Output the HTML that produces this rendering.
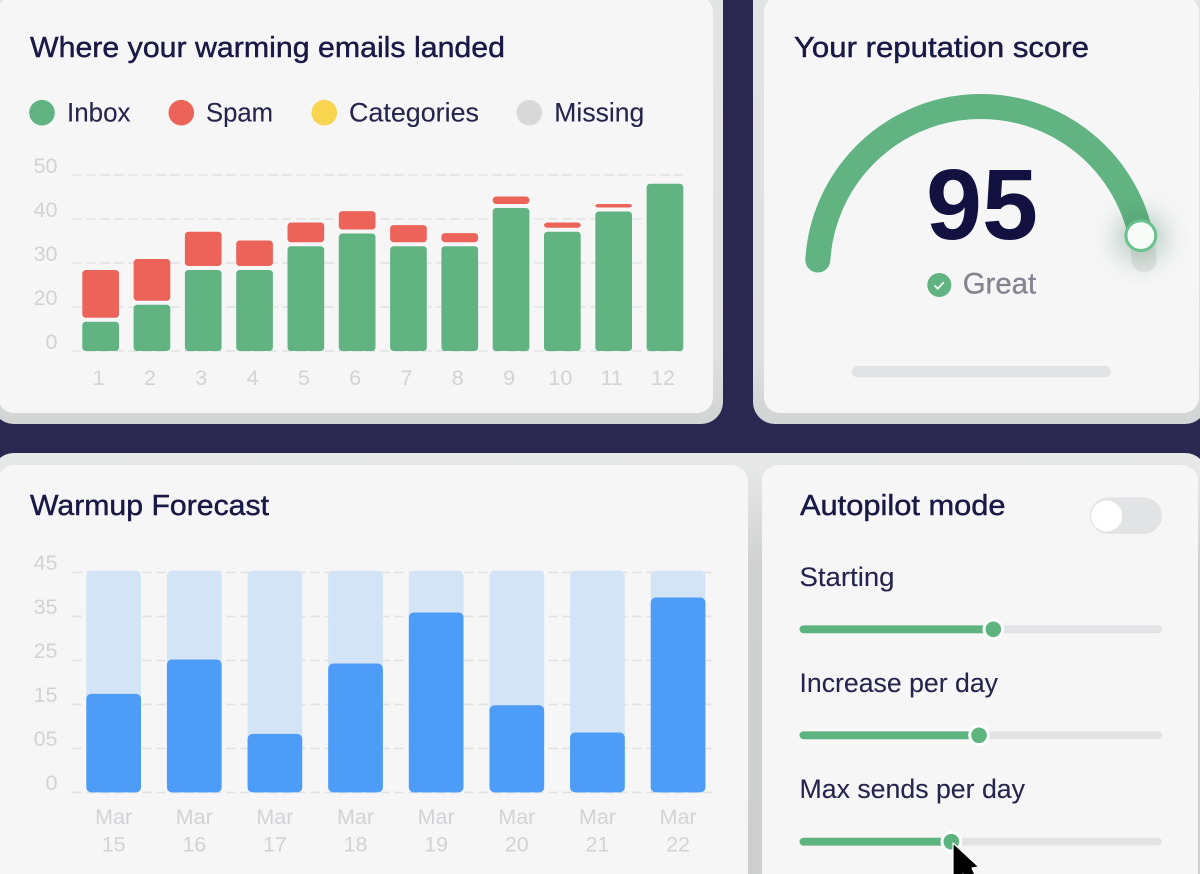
<!DOCTYPE html>
<html lang="en">
<head>
<meta charset="utf-8">
<title>Email warmup dashboard</title>
<style>
html,body{margin:0;padding:0;width:1200px;height:874px;overflow:hidden;background:#2a2850}
svg{display:block}
text{font-family:"Liberation Sans",sans-serif}
.title{font-size:28.5px;fill:#1a1946;stroke:#1a1946;stroke-width:.45px}
.body{font-size:26.5px;fill:#25244c;stroke:#25244c;stroke-width:.1px}
.tick{font-size:21.5px;fill:#d2d3d5}
</style>
</head>
<body>
<svg id="page" xmlns="http://www.w3.org/2000/svg" width="1200" height="874" viewBox="0 0 1200 874">
  <defs>
    <linearGradient id="topEdge" x1="0" y1="0" x2="0" y2="1">
      <stop offset="0" stop-color="#e3e4e4"/><stop offset=".85" stop-color="#dfe0e0"/><stop offset=".97" stop-color="#d4d5d5"/>
    </linearGradient>
    <linearGradient id="lowEdge" x1="0" y1="0" x2="0" y2="1">
      <stop offset="0" stop-color="#e8e9e9"/><stop offset=".06" stop-color="#e4e5e5"/><stop offset=".25" stop-color="#cfd0d0"/><stop offset="1" stop-color="#cdcece"/>
    </linearGradient>
    <filter id="glow" x="-150%" y="-150%" width="400%" height="400%"><feGaussianBlur stdDeviation="12"/></filter>
  </defs>

  <rect width="1200" height="874" fill="#2a2850"/>

  <g>
    <rect x="-8" y="-30" width="731" height="454" rx="22" fill="url(#topEdge)"/>
    <rect x="-2" y="-4" width="715" height="417" rx="16" fill="#f6f6f7"/>
    <text class="title" x="30" y="57" textLength="475" lengthAdjust="spacingAndGlyphs">Where your warming emails landed</text>
    <g>
      <g>
        <circle cx="42" cy="112.7" r="12.8" fill="#61b482"/>
        <text class="body" x="67" y="121.3" textLength="63.5" lengthAdjust="spacingAndGlyphs">Inbox</text>
      </g>
      <g>
        <circle cx="181.3" cy="112.7" r="12.8" fill="#ec6459"/>
        <text class="body" x="206" y="121.3" textLength="67" lengthAdjust="spacingAndGlyphs">Spam</text>
      </g>
      <g>
        <circle cx="324.3" cy="112.7" r="12.8" fill="#f9d44f"/>
        <text class="body" x="349" y="121.3" textLength="130" lengthAdjust="spacingAndGlyphs">Categories</text>
      </g>
      <g>
        <circle cx="529.3" cy="112.7" r="12.8" fill="#d9d9da"/>
        <text class="body" x="554.3" y="121.3" textLength="90" lengthAdjust="spacingAndGlyphs">Missing</text>
      </g>
    </g>
    <g id="chart1"></g>
  </g>

  <g>
    <rect x="753" y="-30" width="454" height="454" rx="22" fill="url(#topEdge)"/>
    <rect x="764" y="-4" width="435" height="417" rx="16" fill="#f6f6f7"/>
    <text class="title" x="794" y="57" textLength="295" lengthAdjust="spacingAndGlyphs">Your reputation score</text>
    <g id="gauge"></g>
    <text x="926" y="239" font-size="100" font-weight="700" fill="#12113f" textLength="112" lengthAdjust="spacingAndGlyphs">95</text>
    <g>
      <circle cx="939.3" cy="285" r="12" fill="#61b482"/>
      <path d="M934.5 285.5l3.3 3.2 6-6.5" fill="none" stroke="#f6f6f7" stroke-width="1.8"/>
      <text x="962.7" y="293.3" font-size="29.5" fill="#84838f" stroke="#84838f" stroke-width=".3" textLength="73.5" lengthAdjust="spacingAndGlyphs">Great</text>
    </g>
    <rect x="852" y="366" width="259" height="11.3" rx="5.6" fill="#e2e3e5"/>
  </g>

  <rect x="-8" y="453" width="1215" height="460" rx="22" fill="url(#lowEdge)"/>

  <g>
    <rect x="-2" y="465" width="750" height="440" rx="16" fill="#f6f6f7"/>
    <text class="title" x="30" y="515" textLength="239" lengthAdjust="spacingAndGlyphs">Warmup Forecast</text>
    <g id="chart2"></g>
  </g>

  <g>
    <rect x="762" y="465" width="436" height="440" rx="16" fill="#f6f6f7"/>
    <text class="title" x="800" y="515" textLength="205.5" lengthAdjust="spacingAndGlyphs">Autopilot mode</text>
    <g>
      <rect x="1090" y="497.5" width="72" height="36.5" rx="18.2" fill="#e2e3e5"/>
      <circle cx="1106.7" cy="516" r="15.5" fill="#ffffff"/>
    </g>

    <text class="body" x="799.5" y="586" textLength="95" lengthAdjust="spacingAndGlyphs">Starting</text>
    <g>
      <rect x="799.5" y="625.4" width="362.5" height="7.8" rx="3.9" fill="#e2e3e5"/>
      <rect x="799.5" y="625.4" width="193.8" height="7.8" rx="3.9" fill="#5eb47f"/>
      <circle cx="993.3" cy="629.3" r="10.8" fill="#ffffff"/>
      <circle cx="993.3" cy="629.3" r="7.8" fill="#5eb47f"/>
    </g>

    <text class="body" x="799.5" y="692" textLength="198.5" lengthAdjust="spacingAndGlyphs">Increase per day</text>
    <g>
      <rect x="799.5" y="731.4" width="362.5" height="7.8" rx="3.9" fill="#e2e3e5"/>
      <rect x="799.5" y="731.4" width="179.5" height="7.8" rx="3.9" fill="#5eb47f"/>
      <circle cx="979" cy="735.3" r="10.8" fill="#ffffff"/>
      <circle cx="979" cy="735.3" r="7.8" fill="#5eb47f"/>
    </g>

    <text class="body" x="799.5" y="798" textLength="225.5" lengthAdjust="spacingAndGlyphs">Max sends per day</text>
    <g>
      <rect x="799.5" y="837.8" width="362.5" height="7.8" rx="3.9" fill="#e2e3e5"/>
      <rect x="799.5" y="837.8" width="151.8" height="7.8" rx="3.9" fill="#5eb47f"/>
      <circle cx="951.3" cy="841.7" r="10.8" fill="#ffffff"/>
      <circle cx="951.3" cy="841.7" r="7.8" fill="#5eb47f"/>
    </g>
  </g>

  <path d="M953 843 L953 884 L963 874 L971 890 L980 886 L972 868 L979 867 Z" fill="#000000" stroke="#ffffff" stroke-width="1.2" stroke-linejoin="round"/>
</svg>

<script>
/* Chart 1 data: where warming emails landed */
const c1Categories = ['1','2','3','4','5','6','7','8','9','10','11','12'];
const c1Inbox = [13.3,20.5,28.4,28.4,33.8,36.7,33.8,33.8,42.5,37.1,41.7,48];
const c1Spam = [15.1,10.4,8.7,6.7,5.4,5.1,4.8,3.0,2.6,2.1,1.7,0];
const c1TickValues = [0,20,30,40,50];
const c1TickLabels = ['0','20','30','40','50'];

/* Chart 2 data: warmup forecast */
const c2Months = ['Mar','Mar','Mar','Mar','Mar','Mar','Mar','Mar'];
const c2Days = ['15','16','17','18','19','20','21','22'];
const c2Sent = [17.4,25.2,8.3,24.3,35.9,14.8,8.6,39.3];
const c2Capacity = [45.4,45.4,45.4,45.4,45.4,45.4,45.4,45.4];
const c2TickValues = [0,5,15,25,35,45];
const c2TickLabels = ['0','05','15','25','35','45'];

/* Gauge data */
const gaugeValue = 95;
const gaugeMax = 100;

const NS = 'http://www.w3.org/2000/svg';
function make(parent, tag, props, text) {
  const node = document.createElementNS(NS, tag);
  for (const key in props) node.setAttribute(key, props[key]);
  if (text !== undefined) node.textContent = text;
  parent.appendChild(node);
  return node;
}

/* The printed ticks are evenly spaced on screen, so the axis is piecewise linear between them. */
function makeYAxis(ticks, baseY, tickStep) {
  return function (v) {
    let i = 0;
    while (i < ticks.length - 2 && v > ticks[i + 1]) i++;
    const t = (v - ticks[i]) / (ticks[i + 1] - ticks[i]);
    return baseY - (i + t) * tickStep;
  };
}
function makeXAxis(firstLeft, pitch) {
  return function (i) { return firstLeft + i * pitch; };
}

function drawGrid(root, ticks, labels, y, x1, x2) {
  ticks.forEach(function (tick, i) {
    const line = make(root, 'line', {x1: x1, x2: x2, y1: y(tick), y2: y(tick), stroke: '#dfe0e2', 'stroke-width': 1.6, 'stroke-dasharray': '9 5'});
    
    
    const label = make(root, 'text', {class: 'tick', x: 57.5, y: y(tick) - 2.2, 'text-anchor': 'end'}, labels[i]);
    
    
  });
}

/* Chart 1 */
(function () {
  const root = document.getElementById('chart1');
  const y = makeYAxis(c1TickValues, 351, 44);
  const x = makeXAxis(82.3, 51.3);
  const barW = 36.7, gap = 4;
  drawGrid(root, c1TickValues, c1TickLabels, y, 72.5, 683);
  c1Categories.forEach(function (cat, i) {
    const top = y(c1Inbox[i]);
    const bar = make(root, 'rect', {x: x(i), y: top, width: barW, height: Math.max(0, y(0) - top), rx: 3.5, fill: '#61b482'});
    
    
    if (c1Spam[i] > 0) {
      const spamTop = y(c1Inbox[i] + c1Spam[i]);
      const spam = make(root, 'rect', {x: x(i), y: spamTop, width: barW, height: Math.max(0, top - gap - spamTop), rx: 3.5, fill: '#ec6459'});
      
      
    }
    const label = make(root, 'text', {class: 'tick', x: x(i) + barW / 2 - 2, y: 385, 'text-anchor': 'middle'}, cat);
    
    
  });
})();

/* Chart 2 */
(function () {
  const root = document.getElementById('chart2');
  const y = makeYAxis(c2TickValues, 792.4, 44);
  const x = makeXAxis(86.3, 80.63);
  const barW = 54.7;
  drawGrid(root, c2TickValues, c2TickLabels, y, 72.5, 711.7);
  c2Days.forEach(function (day, i) {
    const capTop = y(c2Capacity[i]);
    const cap = make(root, 'rect', {x: x(i), y: capTop, width: barW, height: y(0) - capTop, rx: 5, fill: '#d2e4f6'});
    
    
    const top = y(c2Sent[i]);
    const bar = make(root, 'rect', {x: x(i), y: top, width: barW, height: Math.max(0, y(0) - top), rx: 5, fill: '#4d9cf8'});
    
    
    const month = make(root, 'text', {class: 'tick', x: x(i) + barW / 2, y: 824, 'text-anchor': 'middle', 'font-size': 22}, c2Months[i]);
    
    
    const dayLabel = make(root, 'text', {class: 'tick', x: x(i) + barW / 2, y: 851.7, 'text-anchor': 'middle'}, day);
    
    
  });
})();

/* Gauge */
(function () {
  const root = document.getElementById('gauge');
  const cx = 981, cy = 270, r = 163.5;
  const startDeg = 183.5, sweepDeg = 173;
  function pt(deg) {
    const a = deg * Math.PI / 180;
    return [cx + r * Math.cos(a), cy + r * Math.sin(a)];
  }
  function arc(fromDeg, toDeg) {
    const a = pt(fromDeg), b = pt(toDeg);
    return 'M' + a[0] + ' ' + a[1] + ' A' + r + ' ' + r + ' 0 ' + (toDeg - fromDeg > 180 ? 1 : 0) + ' 1 ' + b[0] + ' ' + b[1];
  }
  const endDeg = startDeg + sweepDeg * gaugeValue / gaugeMax;
  const knob = pt(endDeg);
  const track = make(root, 'path', {d: arc(startDeg, startDeg + sweepDeg), fill: 'none', stroke: '#e4e5e5', 'stroke-width': 25, 'stroke-linecap': 'round'});
  
  
  const value = make(root, 'path', {d: arc(startDeg, endDeg), fill: 'none', stroke: '#61b482', 'stroke-width': 25, 'stroke-linecap': 'round'});
  
  
  const glow = make(root, 'circle', {cx: knob[0], cy: knob[1] + 2, r: 26, fill: '#3f7a58', opacity: .3, filter: 'url(#glow)'});
  
  
  const handle = make(root, 'circle', {cx: knob[0], cy: knob[1], r: 14.9, fill: '#f7fcf9', stroke: '#69c18e', 'stroke-width': 3});
  
  
})();
</script>
</body>
</html>
